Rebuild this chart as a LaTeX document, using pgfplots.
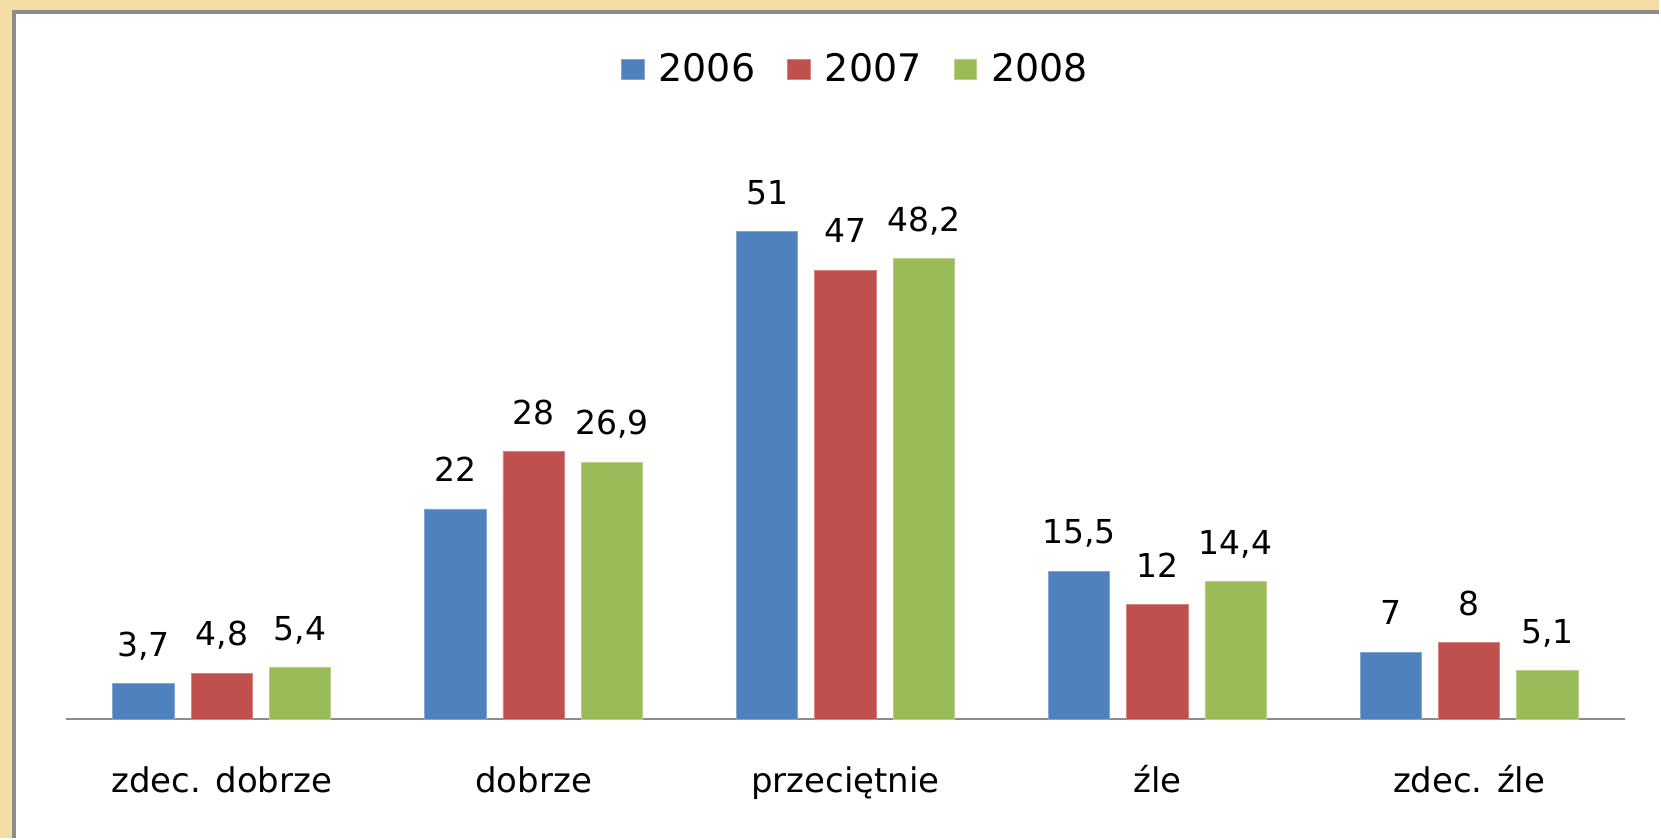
\documentclass[border=0pt]{standalone}
\usepackage{fontspec}
\setmainfont{DejaVu Sans}
\usepackage{pgfplots}
\pgfplotsset{compat=1.18}

\definecolor{cBlue}{RGB}{79,129,189}
\definecolor{cRed}{RGB}{192,80,77}
\definecolor{cGreen}{RGB}{155,187,89}
\definecolor{wood}{RGB}{242,222,164}
\definecolor{frame}{RGB}{140,140,140}

\begin{document}
\begin{tikzpicture}
  % background and white panel
  \fill[wood] (0,0) rectangle (830.5bp,419.5bp);
  \fill[white] (7bp,0) rectangle (830.5bp,413.5bp);
  \draw[frame, line width=2bp] (7bp,0) -- (7bp,413.5bp) -- (830.5bp,413.5bp);
  \useasboundingbox (0,0) rectangle (830.5bp,419.5bp);

  \begin{axis}[
    at={(33bp,59.5bp)}, anchor=south west,
    scale only axis,
    width=780.5bp, height=287bp,
    ybar=8.5bp, bar width=30.7bp,
    xmin=-0.5, xmax=4.5,
    ymin=0, ymax=60,
    hide y axis,
    axis x line*=bottom,
    x axis line style={frame, line width=1bp, -},
    xtick=data,
    xticklabels={zdec. dobrze, dobrze, przeciętnie, źle, zdec. źle},
    major tick length=0pt,
    xticklabel style={font=\fontsize{17bp}{20bp}\selectfont, anchor=base, inner sep=0pt, yshift=-36.5bp},
    /pgf/number format/assume math mode=true,
    /pgf/number format/use comma,
    nodes near coords,
    every node near coord/.append style={font=\fontsize{16.5bp}{19bp}\selectfont, anchor=south, inner sep=0pt, text depth=0pt, yshift=13.5bp, black},
    legend columns=3,
    legend style={at={(0.507,1.134)}, anchor=center, draw=none, fill=none,
      font=\fontsize{19bp}{22bp}\selectfont,
      /tikz/every odd column/.append style={column sep=5bp},
      /tikz/every even column/.append style={column sep=14bp}},
    legend image code/.code={\draw[#1] (0bp,-5bp) rectangle (11.5bp,5bp);},
  ]
    \addplot[fill=cBlue, draw=cBlue!70!white] coordinates {(0,3.7) (1,22) (2,51) (3,15.5) (4,7)};
    \addplot[fill=cRed, draw=cRed!70!white] coordinates {(0,4.8) (1,28) (2,47) (3,12) (4,8)};
    \addplot[fill=cGreen, draw=cGreen!70!white] coordinates {(0,5.4) (1,26.9) (2,48.2) (3,14.4) (4,5.1)};
    \legend{2006, 2007, 2008}
  \end{axis}
\end{tikzpicture}
\end{document}
